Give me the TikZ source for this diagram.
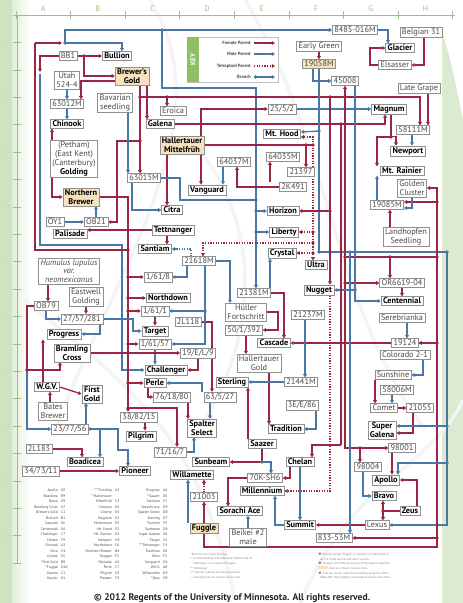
\documentclass[tikz,border=0pt]{standalone}
\usepackage{fontspec}
\setmainfont{PT Sans}
\usetikzlibrary{arrows.meta}
\pgfdeclarelayer{back}\pgfdeclarelayer{bg}\pgfsetlayers{back,bg,main}
\definecolor{fcol}{HTML}{9B2447}
\definecolor{mcol}{HTML}{4A78A6}
\definecolor{boxgray}{HTML}{909090}
\definecolor{tanfill}{HTML}{F6E2BE}
\definecolor{txtg}{HTML}{4A4A4A}
\definecolor{lgreen}{HTML}{CFE3BE}
\definecolor{rgreen}{HTML}{DCEAD2}
\definecolor{rulc}{HTML}{97C47E}
\definecolor{keyg}{HTML}{8DC063}
\tikzset{
 nd/.style={draw=boxgray, line width=0.5pt, fill=white, inner xsep=2pt, inner ysep=1.4pt, align=center, text=txtg, font=\fontsize{8.3}{8.8}\selectfont},
 bnd/.style={nd, text=black, font=\bfseries\fontsize{8.3}{8.8}\selectfont},
 tanb/.style={fill=tanfill},
 conn/.style={line width=1.3pt},
 fem/.style={conn, draw=fcol, -{Triangle[length=3.2pt,width=3.8pt]}},
 femline/.style={conn, draw=fcol},
 mal/.style={conn, draw=mcol, -{Triangle[length=3.2pt,width=3.8pt]}},
 malline/.style={conn, draw=mcol},
 tet/.style={fem, dash pattern=on 1.2pt off 1.4pt},
 malt/.style={mal, dash pattern=on 1.2pt off 1.4pt},
 rul/.style={draw=rulc, line width=0.9pt},
 rull/.style={text=rulc, font=\fontsize{8}{8}\selectfont, inner sep=0pt},
 idx/.style={inner sep=0pt, text=txtg, font=\fontsize{3.7}{5.5}\selectfont},
 note/.style={inner sep=0pt, text=gray, font=\fontsize{2.9}{4.6}\selectfont, align=left, anchor=north west},
 keyl/.style={inner sep=0pt, text=txtg, font=\bfseries\fontsize{4.6}{5}\selectfont, anchor=east},
 wm/.style={draw=gray!9, line width=3.5pt},
}
\begin{document}
\begin{tikzpicture}[x=1pt,y=-1pt]
\useasboundingbox (0,0) rectangle (463,603);
% ---------- nodes ----------
\node[nd] (bbone) at (68,56) {BB1};
\node[bnd] (bullion) at (117,56) {Bullion};
\node[bnd,tanb] (bgold) at (132,76) {Brewer's\\Gold};
\node[nd] (utah) at (67,80) {Utah\\524-4};
\node[nd] (mzero) at (67,104) {63012M};
\node[nd] (bav) at (115,103) {Bavarian\\seedling};
\node[bnd] (chinook) at (67,124) {Chinook};
\node[nd] (golding) at (74,159) {(Petham)\\(East Kent)\\(Canterbury)\\\textbf{\color{black}Golding}};
\node[bnd,tanb] (nbrewer) at (81,197) {Northern\\Brewer};
\node[nd] (oyone) at (55,222) {OY1};
\node[nd] (obtwo) at (96,222) {OB21};
\node[bnd] (palisade) at (70,234) {Palisade};
\node[nd, font=\itshape\fontsize{8.3}{8.8}\selectfont] (neomex) at (69,271) {Humulus lupulus\\var.\\neomexicanus};
\node[nd] (eastwell) at (86,297) {Eastwell\\Golding};
\node[nd] (obseven) at (46,306) {OB79};
\node[nd] (tfs) at (82,319) {27/57/281};
\node[bnd] (progress) at (64,334) {Progress};
\node[bnd] (bramling) at (72,353) {Bramling\\Cross};
\node[bnd] (wgv) at (47,387) {W.G.V.};
\node[bnd] (firstgold) at (92,394) {First\\Gold};
\node[nd] (bates) at (53,411) {Bates\\Brewer};
\node[nd] (tss) at (70,429) {23/77/56};
\node[nd] (lone) at (39,449) {2L183};
\node[bnd] (boadicea) at (85,462) {Boadicea};
\node[nd] (tst) at (41,471) {34/73/11};
\node[bnd] (pioneer) at (135,471) {Pioneer};
\node[nd] (eroica) at (173,111) {Eroica};
\node[bnd] (galena) at (160,124) {Galena};
\node[nd] (tff) at (282,109) {25/5/2};
\node[bnd,tanb] (hmf) at (182,145) {Hallertauer\\Mittelfrüh};
\node[bnd] (mthood) at (282,134) {Mt. Hood};
\node[nd] (sfive) at (283,157) {64035M};
\node[nd] (sseven) at (234,162) {64037M};
\node[nd] (tnine) at (301,172) {21397};
\node[nd] (tkay) at (293,187) {2K491};
\node[bnd] (vanguard) at (207,190) {Vanguard};
\node[nd] (sixtyfifteen) at (144,178) {63015M};
\node[bnd] (citra) at (172,210) {Citra};
\node[bnd] (tett) at (173,230) {Tettnanger};
\node[bnd] (santiam) at (155,249) {Santiam};
\node[bnd] (horizon) at (283,211) {Horizon};
\node[bnd] (liberty) at (284,232) {Liberty};
\node[bnd] (crystal) at (282,253) {Crystal};
\node[bnd] (ultra) at (316,265) {Ultra};
\node[nd] (tsix) at (199,261) {21618M};
\node[nd] (oeight) at (158,277) {1/61/8};
\node[bnd] (northdown) at (168,298) {Northdown};
\node[nd] (oone) at (155,311) {1/61/1};
\node[nd] (ltwo) at (188,322) {2L118};
\node[bnd] (target) at (155,331) {Target};
\node[nd] (ofs) at (155,344) {1/61/57};
\node[nd] (nine) at (198,353) {19/E/L/9};
\node[bnd] (challenger) at (166,370) {Challenger};
\node[bnd] (perle) at (155,383) {Perle};
\node[nd] (seventysix) at (172,397) {76/18/80};
\node[nd] (sixtythree) at (220,397) {63/5/27};
\node[bnd] (sterling) at (232,382) {Sterling};
\node[nd] (huller) at (246,312) {Hüller\\Fortschritt};
\node[nd] (fifty) at (244,330) {50/1/392};
\node[nd] (tthree) at (254,293) {21381M};
\node[bnd] (cascade) at (274,343) {Cascade};
\node[nd] (hgold) at (259,363) {Hallertauer\\Gold};
\node[nd] (ttseven) at (308,315) {21237M};
\node[nd] (tfour) at (301,382) {21441M};
\node[bnd] (nugget) at (319,290) {Nugget};
\node[bnd] (tradition) at (286,429) {Tradition};
\node[nd] (three) at (302,405) {3E/E/86};
\node[bnd] (spalter) at (202,428) {Spalter\\Select};
\node[nd] (thirtyeight) at (139,417) {38/82/15};
\node[bnd] (pilgrim) at (141,436) {Pilgrim};
\node[nd] (seventyone) at (170,452) {71/16/7};
\node[bnd] (sunbeam) at (211,462) {Sunbeam};
\node[bnd] (saazer) at (262,444) {Saazer};
\node[bnd] (chelan) at (300,462) {Chelan};
\node[nd] (seventyk) at (265,478) {70K-SH6};
\node[bnd] (millennium) at (262,491) {Millennium};
\node[bnd] (willamette) at (192,475) {Willamette};
\node[nd] (tzero) at (204,497) {21003};
\node[bnd] (sorachi) at (240,511) {Sorachi Ace};
\node[bnd,tanb] (fuggle) at (204,528) {Fuggle};
\node[nd] (beikei) at (248,537) {Beikei \#2\\male};
\node[bnd] (summit) at (300,525) {Summit};
\node[nd] (eightthree) at (334,538) {833-53M};
\node[nd] (lexus) at (377,525) {Lexus};
\node[bnd] (zeus) at (410,511) {Zeus};
\node[bnd] (bravo) at (384,496) {Bravo};
\node[bnd] (apollo) at (386,480) {Apollo};
\node[nd] (nfour) at (368,467) {98004};
\node[nd] (none) at (402,448) {98001};
\node[bnd] (supergalena) at (382,430) {Super\\Galena};
\node[nd] (comet) at (384,408) {Comet};
\node[nd] (tfive) at (420,408) {21055};
\node[nd] (fiftyeight) at (397,390) {58006M};
\node[nd] (sunshine) at (393,375) {Sunshine};
\node[nd] (colorado) at (405,355) {Colorado 2-1};
\node[nd] (nineteen) at (405,343) {19124};
\node[nd] (serebrianka) at (402,318) {Serebrianka};
\node[bnd] (centennial) at (402,301) {Centennial};
\node[nd] (orsix) at (402,283) {OR6619-04};
\node[nd] (landhopfen) at (406,237) {Landhopfen\\Seedling};
\node[nd] (nineeight) at (387,205) {19085M};
\node[nd] (golden) at (412,188) {Golden\\Cluster};
\node[bnd] (rainier) at (402,171) {Mt. Rainier};
\node[bnd] (newport) at (408,151) {Newport};
\node[nd] (fiveone) at (413,130) {58111M};
\node[bnd] (magnum) at (389,109) {Magnum};
\node[nd] (lategrape) at (419,88) {Late Grape};
\node[nd] (elsasser) at (395,65) {Elsasser};
\node[bnd] (glacier) at (400,48) {Glacier};
\node[nd] (belgian) at (421,32) {Belgian 31};
\node[nd] (eightfour) at (355,30) {8485-016M};
\node[nd] (earlygreen) at (319,46) {Early Green};
\node[nd,tanb] (nineteenfive) at (319,64) {19058M};
\node[nd] (fourfive) at (345,81) {45008};
% ---------- key ----------
\node[draw=gray!50, fill=white, line width=0.4pt, minimum width=91pt, minimum height=45pt, anchor=north west, inner sep=0pt] (keybox) at (187,37) {};
\fill[keyg] (187.3,37.3) rectangle (199,81.7);
\node[rotate=90, text=white, font=\bfseries\fontsize{7}{7}\selectfont] (keyt) at (193,59.5) {KEY};
\node[keyl] (kf) at (251,43) {Female Parent};
\node[keyl] (km) at (251,54) {Male Parent};
\node[keyl] (kt) at (251,66) {Tetraploid Parent};
\node[keyl] (kb) at (251,77) {Branch};
\coordinate (kfa) at (254,43); \coordinate (kfb) at (275,43);
\coordinate (kma) at (254,54); \coordinate (kmb) at (275,54);
\coordinate (kta) at (254,66); \coordinate (ktb) at (275,66);
\coordinate (kba) at (254,77); \coordinate (kbb) at (275,77);
\draw[fem] (kfa) -- (kfb);
\draw[mal] (kma) -- (kmb);
\draw[tet] (kta) -- (ktb);
\draw[malline, {Circle[length=3.4pt]}-{Triangle[length=3.2pt,width=3.8pt]}] (kba) -- (kbb);
% ---------- ruler ----------
\draw[rul] (16,15) -- (455,15);
\draw[rul] (17,15) -- (17,563);
\foreach \i in {0,...,8} \draw[rul] ({16+54.6*\i},11) -- ({16+54.6*\i},19);
\foreach \l [count=\i from 0] in {A,B,C,D,E,F,G,H} \node[rull] (col\i) at ({43.3+54.6*\i},9) {\l};
\foreach \i in {0,...,20} \draw[rul, line width=0.6pt] (13,{15+27.4*\i}) -- (21,{15+27.4*\i});
\foreach \i in {1,...,10} \node[rull, font=\fontsize{5}{5}\selectfont, text=rulc!70] (row\i) at (8,{15+54.8*\i-27.4}) {\i};
% ---------- index ----------
\node[idx, anchor=north east, align=right] (ia) at (58,489) {Apollo\\Boadicea\\Bravo\\Bramling Cross\\Brewer's Gold\\Bullion\\Cascade\\Centennial\\Challenger\\Chelan\\Chinook\\Citra\\Crystal\\*First Gold\\*Fuggle\\Galena\\Glacier};
\node[idx, anchor=north west, align=left] (ib) at (61,489) {G9\\B9\\G9\\A7\\C2\\B1\\E6\\G6\\C7\\F9\\A2\\C4\\E5\\B8\\D10\\C2\\G1};
\node[idx, anchor=north east, align=right] (ic) at (112,489) {****Golding\\**Hallertauer\\Mittelfrüh\\Horizon\\Liberty\\Magnum\\Millennium\\Mt. Hood\\Mt. Rainier\\Newport\\Northdown\\Northern Brewer\\Nugget\\Palisade\\Perle\\Pilgrim\\Pioneer};
\node[idx, anchor=north west, align=left] (id) at (115,489) {A3\\\mbox{}\\C3\\E4\\E4\\G2\\E9\\E3\\G3\\H3\\C6\\B4\\F5\\A4\\C7\\C8\\C9};
\node[idx, anchor=north east, align=right] (ie) at (160,489) {Progress\\**Saazer\\Santiam\\Sorachi Ace\\Spalter Select\\Sterling\\*Summit\\Sunbeam\\Super Galena\\Target\\***Tettnanger\\Tradition\\Ultra\\Vanguard\\W.G.V.\\Willamette\\*Zeus};
\node[idx, anchor=north west, align=left] (iff) at (163,489) {A6\\E8\\C5\\D9\\D8\\D7\\F9\\D8\\G8\\C6\\C4\\E8\\F5\\D4\\A8\\D9\\H9};
\node[note] (na) at (190,553) {* Bred for use in beer brewing\\** Current thinking is that Bavarian Spalter and US\\\ \ \ \ Tettnanger are a variant of Fuggle.\\*** Tettnanger\\**** Several cultivars are sold as Golding.\\--- Crossing lines are joined only at a dot.};
\node[note] (nb) at (318,553) {$\bullet$ Parents named ``Fuggle'' or ``Golding'' are described as\\\ \ such in USDA records and other sources.\\$\bullet$ Numbers are USDA accessions of the highest selection.\\\hbox{\color{tanfill}\rule{10pt}{3pt}}\ Used as a check in parent lines.\\$\bullet$ Cultivars shown come from breeding programs of the\\\ \ USDA-ARS, Wye College, Hop Research Center and others.};
\node[font=\bfseries\fontsize{9.6}{10}\selectfont, text=black!85, inner sep=0pt] (copy) at (232,598) {© 2012 Regents of the University of Minnesota. All rights reserved.};
% ---------- background ----------
\begin{pgfonlayer}{back}
\fill[white] (0,0) rectangle (463,603);
\shade[left color=lgreen, right color=white] (0,0) rectangle (30,603);
\fill[lgreen] (0,0) rectangle (12,603);
\fill[rgreen] (442,0) rectangle (463,603);
\fill[white] (430,0) .. controls (448,40) and (455,80) .. (463,120) -- (463,0) -- cycle;
\draw[wm] (150,0) .. controls (225,120) and (120,260) .. (55,430);
\draw[wm] (245,0) .. controls (330,140) and (330,300) .. (425,430);
\draw[wm] (25,300) .. controls (120,380) and (200,430) .. (235,600);
\draw[wm] (300,603) .. controls (350,480) and (430,470) .. (463,400);
\draw[wm] (200,150) .. controls (260,230) and (260,330) .. (200,430);
\end{pgfonlayer}
% ---------- connectors ----------
\begin{pgfonlayer}{bg}
\draw[fem] (bbone.east) -- (bullion.west);
\draw[fem] (bbone.east) -- (84,56) |- (bgold.west);
\draw[fem] (bbone.west) -| (40,72);
\draw[mal] (40,74) -- (40,245) -- (122,245) |- (challenger.west);
\draw[femline] (128,250) -- (35,250) -- (35,43);
\draw[fem] (35,43) -- (62,43);
\draw[mal] (65,43) -- (65,30) -- (eightfour.west);
\draw[mal] (65,43) -| ([xshift=5pt]bullion.north);
\draw[malline] (162,30) -- (162,88) -- (256,88) -- (256,200);
\draw[mal] (256,200) -- ([xshift=2pt]tthree.north);
\draw[mal] (256,211) -- (horizon.west);
\draw[mal] (256,232) -- (liberty.west);
\draw[fem] ([yshift=-5pt]bgold.west) -| ([xshift=14pt]mzero.north);
\draw[mal] (utah.south) -- (mzero.north);
\draw[mal] (mzero.south) -- (chinook.north);
\draw[fem] ([xshift=-22pt]golding.north) -- ([xshift=-15pt]chinook.south);
\draw[fem] ([xshift=-22pt]golding.south) |- (nbrewer.west);
\draw[mal] (oyone.east) -- (obtwo.west);
\draw[mal] (obtwo.north) -- (obtwo.north |- nbrewer.south);
\draw[fem] (140,141) -- (117,141) |- (obtwo.east);
\draw[mal] ([xshift=13pt]bav.south) -- ([xshift=-16pt]sixtyfifteen.north);
\draw[fem] ([xshift=8pt]bgold.south) -- ([xshift=-4pt]sixtyfifteen.north);
\draw[fem] ([xshift=15pt]bgold.south) -- ([xshift=-13pt]galena.north);
\draw[fem] (140,97) -| ([xshift=7pt]fiveone.north);
\draw[fem] (167,97) -- ([xshift=-6pt]eroica.north);
\draw[fem] (galena.east) -| ([xshift=-4pt]magnum.south);
\draw[mal] (tff.east) -- (magnum.west);
\draw[fem] ([xshift=19pt]hmf.north) |- (tff.west);
\draw[fem] ([xshift=19pt]hmf.south) -- ([xshift=-6pt]vanguard.north);
\draw[mal] ([xshift=-11pt]sseven.south) -- ([xshift=16pt]vanguard.north);
\draw[femline] (hmf.east) -- (313,145);
\draw[fem] (306,145) -- ([xshift=5pt]tnine.north);
\draw[tet] (313,145) |- ([yshift=-3pt]mthood.east);
\draw[tet] (313,145) -- ([xshift=-3pt]ultra.north);
\draw[tet] (313,232) -- (liberty.east);
\draw[tet] (313,253) -- (crystal.east);
\draw[tet] (313,243) -| ([xshift=4pt]tsix.north);
\draw[fem] (tkay.west) -| ([xshift=3pt]sseven.south);
\draw[fem] ([xshift=-23pt]tkay.north) -- ([xshift=-13pt]sfive.south);
\draw[fem] (earlygreen.south) -- (nineteenfive.north);
\draw[mal] ([xshift=-6pt]nineteenfive.south) |- (fourfive.west);
\draw[mal] (nineteenfive.south) |- (447,252) |- (lexus.east);
\draw[mal] (319,131) -- ([yshift=2pt]mthood.east);
\draw[mal] (eightfour.east) -| ([xshift=-12pt]glacier.north);
\draw[fem] ([xshift=3pt]belgian.south) |- (elsasser.east);
\draw[fem] (elsasser.west) -- (370,65) |- (glacier.west);
\draw[fem] ([xshift=9pt]lategrape.south) -- ([xshift=15pt]fiveone.north);
\draw[fem] ([xshift=2pt]magnum.south) -- ++(0,22) -| ([xshift=-12pt]newport.north);
\draw[fem] (391,137) -| ([xshift=-25pt]rainier.north);
\draw[mal] ([xshift=-1pt]fiveone.south) -- ([xshift=4pt]newport.north);
\draw[mal] ([xshift=-10pt]nineeight.north) -- ([xshift=-25pt]rainier.south);
\draw[fem] (fuggle.south) |- (437,547) |- (golden.east);
\draw[fem] (437,202) -- ([yshift=3pt]nineeight.east);
\draw[mal] (golden.south) |- ([yshift=-3pt]nineeight.east);
\draw[fem] ([xshift=-16pt]landhopfen.north) -- ([xshift=3pt]nineeight.south);
\draw[femline] (437,257) -- (345,257);
\draw[fem] (345,257) -- (fourfive.south);
\draw[fem] (345,257) |- (none.west);
\draw[fem] (345,283) -- (orsix.west);
\draw[fem] (390,257) -- ([xshift=-12pt]orsix.north);
\draw[fem] (orsix.south) -- (centennial.north);
\draw[mal] ([xshift=10pt]fourfive.south) |- (centennial.west);
\draw[mal] (355,290) -- (nugget.east);
\draw[fem] (330,97) -- ([xshift=11pt]nugget.north);
\draw[fem] (330,211) -- (horizon.east);
\draw[femline] (341,124) -- (341,445);
\draw[fem] (341,445) -| ([xshift=12pt]chelan.north);
\draw[fem] (437,343) -- (cascade.east);
\draw[fem] (437,343) -- (nineteen.east);
\draw[mal] ([xshift=5pt]serebrianka.south) -- ([xshift=2pt]nineteen.north);
\draw[mal] ([xshift=18pt]colorado.south) |- (sunshine.east);
\draw[fem] ([xshift=-18pt]sunshine.south) -- ([xshift=-9pt]comet.north);
\draw[mal] ([xshift=-5pt]fiftyeight.south) -- ([xshift=8pt]comet.north);
\draw[fem] (comet.east) -- (tfive.west);
\draw[fem] ([xshift=-7pt]tfive.south) |- ([yshift=-3pt]supergalena.east);
\draw[mal] (447,426) -- ([yshift=4pt]supergalena.east);
\draw[fem] ([xshift=-10pt]none.south) -- ([xshift=6pt]apollo.north);
\draw[mal] (447,463) -| ([xshift=12pt]apollo.north);
\draw[fem] (360,448) -- ([xshift=-8pt]nfour.north);
\draw[fem] ([xshift=7pt]zeus.north) |- (apollo.east);
\draw[fem] (zeus.west) -| ([xshift=-1pt]bravo.south);
\draw[fem] (383,511) -- ([xshift=6pt]lexus.north);
\draw[mal] ([xshift=-5pt]nfour.south) |- (bravo.west);
\draw[fem] (lexus.west) -- (summit.east);
\draw[fem] (437,538) -- (eightthree.east);
\draw[mal] (350,252) -- ([xshift=16pt]eightthree.north);
\draw[mal] (chelan.south) -- (summit.north);
\draw[tet] ([xshift=11pt]nugget.south) |- (millennium.east);
\draw[mal] (summit.west) -| ([xshift=13pt]millennium.south);
\draw[fem] ([xshift=-10pt]chelan.south) |- (seventyk.east);
\draw[fem] (nbrewer.east) -| ([xshift=-11pt]thirtyeight.north);
\draw[fem] (128,277) -- (oeight.west);
\draw[fem] (128,298) -- (northdown.west);
\draw[fem] (128,311) -- (oone.west);
\draw[fem] (128,344) -- (ofs.west);
\draw[fem] (128,383) -- (perle.west);
\draw[fem] (128,408) -| ([xshift=7pt]seventyone.north);
\draw[fem] (oone.south) -- (target.north);
\draw[mal] (tfs.east) -| (133,331) -- (target.west);
\draw[mal] (ofs.south) -- ([xshift=-11pt]challenger.north);
\draw[fem] (nine.south) |- (challenger.east);
\draw[fem] (bramling.east) -- (nine.west);
\draw[fem] ([xshift=-7pt]perle.south) |- (seventysix.west);
\draw[mal] ([xshift=-18pt]sixtythree.north) |- (perle.east);
\draw[fem] (ltwo.east) -| ([xshift=-8pt]sixtythree.north);
\draw[mal] ([xshift=-12pt]tsix.south) |- (oeight.east);
\draw[mal] ([xshift=6pt]tsix.south) |- (ofs.east);
\draw[mal] (205,311) -- (oone.east);
\draw[malt] ([xshift=-8pt]tsix.north) |- (santiam.east);
\draw[mal] (tsix.east) -| ([xshift=-16pt]huller.north);
\draw[fem] (huller.east) -- (278,312) |- (fifty.east);
\draw[fem] ([xshift=2pt]fifty.south) -- ([xshift=-13pt]hgold.north);
\draw[fem] (tthree.east) -| ([xshift=10pt]cascade.north);
\draw[mal] ([xshift=16pt]tthree.north) -- ([xshift=-12pt]crystal.south);
\draw[fem] ([xshift=10pt]hgold.south) -- ([xshift=-17pt]tradition.north);
\draw[mal] ([xshift=14pt]three.south) |- (tradition.east);
\draw[mal] (tfour.west) -- (sterling.east);
\draw[mal] ([xshift=-3pt]ttseven.south) -- ([xshift=4pt]tfour.north);
\draw[fem] ([xshift=-14pt]saazer.north) -- ([xshift=16pt]sterling.south);
\draw[fem] (saazer.south) |- (sunbeam.east);
\draw[mal] (262,462) -| ([xshift=6pt]seventyk.north);
\draw[fem] (seventyk.west) -| ([xshift=-12pt]sorachi.north);
\draw[mal] (beikei.north) -- ([xshift=8pt]sorachi.south);
\draw[fem] ([xshift=16pt]seventysix.south) -- ([xshift=-14pt]spalter.north);
\draw[mal] ([xshift=-10pt]sixtythree.south) -- ([xshift=8pt]spalter.north);
\draw[mal] (seventyone.east) -| ([xshift=-8pt]spalter.south);
\draw[fem] ([xshift=6pt]thirtyeight.south) -- ([xshift=4pt]pilgrim.north);
\draw[fem] (fuggle.north) -- (tzero.south);
\draw[tet] (tzero.north) -- ([xshift=12pt]willamette.south);
\draw[mal] ([xshift=-16pt]fuggle.north) -- ([xshift=-4pt]willamette.south);
\draw[fem] ([xshift=-21pt]neomex.south) -- ([xshift=2pt]obseven.north);
\draw[mal] (obseven.south) |- (tfs.west);
\draw[fem] (eastwell.south) -- ([xshift=4pt]tfs.north);
\draw[fem] (obseven.west) -| (27,370) -| ([xshift=-12pt]bramling.south);
\draw[mal] (27,370) |- (tss.west);
\draw[fem] ([xshift=-4pt]wgv.north) -- ([xshift=-21pt]progress.south);
\draw[mal] ([xshift=18pt]tfs.south) |- (progress.east);
\draw[fem] ([xshift=-3pt]bates.north) -- ([xshift=3pt]wgv.south);
\draw[fem] (wgv.east) -- (firstgold.west);
\draw[mal] ([xshift=16pt]tss.north) -- ([xshift=-6pt]firstgold.south);
\draw[mal] (tss.east) -| ([xshift=15pt]boadicea.north);
\draw[fem] (lone.east) -| ([xshift=-3pt]boadicea.north);
\draw[mal] (tss.east) -| (118,450) -| ([xshift=-7pt]pioneer.north);
\draw[fem] (tst.east) -- (pioneer.west);
\draw[fem] (tett.west) -- (palisade.east |- tett.west);
\draw[fem] ([xshift=-6pt]tett.south) -- ([xshift=12pt]santiam.north);
\draw[fem] ([xshift=-15pt]hmf.south) -- ([xshift=-5pt]citra.north);
\draw[mal] ([xshift=-12pt]sixtyfifteen.south) |- (citra.west);
\draw[malline] (sixtyfifteen.east) -- (180,178) -- (180,200) -- (256,200);
% junction dots
\foreach \p in {(140,97),(167,97),(330,97),(140,141),(306,145),(313,145),(313,232),(313,243),(313,253),(330,211),(341,124),(128,250),(128,277),(128,298),(128,311),(128,344),(128,383),(128,408),(345,257),(345,283),(390,257),(437,202),(437,257),(437,343),(437,538),(391,137),(360,448),(383,511),(27,370),(84,56)}
  \fill[fcol] \p circle (1.8pt);
\foreach \p in {(162,30),(65,43),(256,200),(256,211),(256,232),(319,131),(319,252),(350,252),(355,290),(447,426),(447,463),(205,311),(262,462),(90,429),(447,252)}
  \fill[mcol] \p circle (1.8pt);
\end{pgfonlayer}
\end{tikzpicture}
\end{document}
